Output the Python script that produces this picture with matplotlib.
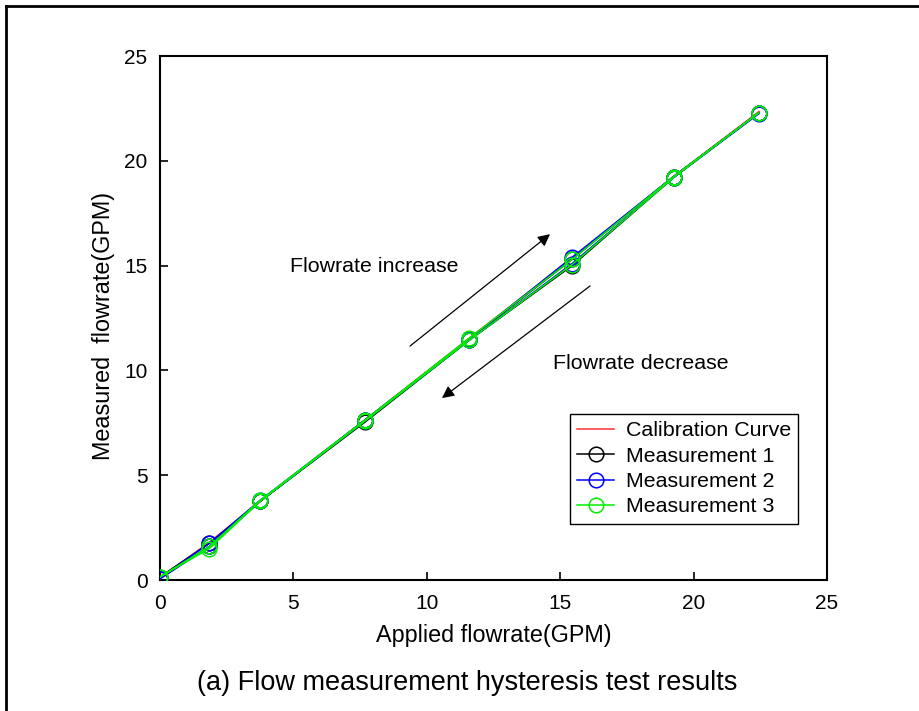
import matplotlib
matplotlib.use("Agg")
import matplotlib.pyplot as plt
from matplotlib.lines import Line2D

plt.rcParams['font.family'] = ['Liberation Sans', 'DejaVu Sans']

# Data
x_up = [0, 1.85, 3.75, 7.7, 11.6, 15.45, 19.25, 22.45]
x_down = x_up[::-1]
calib_y = [0.1, 1.8, 3.75, 7.65, 11.55, 15.35, 19.25, 22.35]

m1_up = [0.15, 1.75, 3.75, 7.65, 11.5, 15.3, 19.25, 22.3]
m1_down = [22.3, 19.2, 15.0, 11.45, 7.55, 3.75, 1.6, 0.1]
m2_up = [0.1, 1.75, 3.8, 7.65, 11.5, 15.4, 19.25, 22.3]
m2_down = [22.25, 19.2, 15.1, 11.45, 7.6, 3.75, 1.6, 0.05]
m3_up = [0.15, 1.6, 3.8, 7.65, 11.55, 15.3, 19.25, 22.3]
m3_down = [22.3, 19.2, 15.05, 11.45, 7.6, 3.75, 1.5, 0.15]

ticks = [0, 5, 10, 15, 20, 25]

fig = plt.figure(figsize=(9.2, 7.11), dpi=100)
ax = fig.add_axes([160/920, 1-580/711, 667/920, 524/711])

ax.plot(x_up, calib_y, color='#ff3030', lw=1.1, label='Calibration Curve', zorder=2)
series = [(m1_up, m1_down, 'black', 'Measurement 1'),
          (m2_up, m2_down, '#0000ff', 'Measurement 2'),
          (m3_up, m3_down, '#00ee00', 'Measurement 3')]
for up, down, c, lab in series:
    ax.plot(x_up + x_down, up + down, color=c, lw=1.1, marker='o', ms=10.5,
            mfc='none', mec=c, mew=1.1, label=lab, zorder=3)

ax.set_xlim(0, 25)
ax.set_ylim(0, 25)
ax.set_xticks(ticks)
ax.set_yticks(ticks)
ax.tick_params(direction='in', length=6, width=1.2, labelsize=15)
ax.tick_params(axis='x', pad=10)
ax.tick_params(axis='y', pad=9)
for s in ax.spines.values():
    s.set_linewidth(1.5)

ax.set_xlabel('Applied flowrate(GPM)', fontsize=16.8, labelpad=8)
ax.set_ylabel('Measured  flowrate(GPM)', fontsize=16.8)
ax.yaxis.set_label_coords(-45/667, 0.485)

ax.annotate('', xy=(14.62, 16.5), xytext=(9.37, 11.16),
            arrowprops=dict(arrowstyle='-|>', color='black', lw=0.9,
                            mutation_scale=18, shrinkA=0, shrinkB=0))
ax.annotate('', xy=(10.57, 8.68), xytext=(16.12, 14.03),
            arrowprops=dict(arrowstyle='-|>', color='black', lw=0.9,
                            mutation_scale=18, shrinkA=0, shrinkB=0))
ax.text(4.87, 14.98, 'Flowrate increase', fontsize=15.4, va='center', ha='left')
ax.text(14.73, 10.35, 'Flowrate decrease', fontsize=15.4, va='center', ha='left')

leg = ax.legend(loc='lower right', bbox_to_anchor=(0.957, 0.107), fontsize=15.4,
                frameon=True, fancybox=False, edgecolor='black', framealpha=1,
                handlelength=1.7, handletextpad=0.55, borderpad=0.35,
                labelspacing=0.3, borderaxespad=0)
leg.get_frame().set_linewidth(1.0)

fig.text(467/920, 1-683/711, '(a) Flow measurement hysteresis test results',
         fontsize=19.5, ha='center', va='center')

# figure border (top and left)
fig.add_artist(Line2D([6/920, 1.0], [1-6/711, 1-6/711], color='black', lw=2,
                      transform=fig.transFigure))
fig.add_artist(Line2D([6/920, 6/920], [1-6/711, 0], color='black', lw=2,
                      transform=fig.transFigure))

fig.savefig('out.png', dpi=100)
